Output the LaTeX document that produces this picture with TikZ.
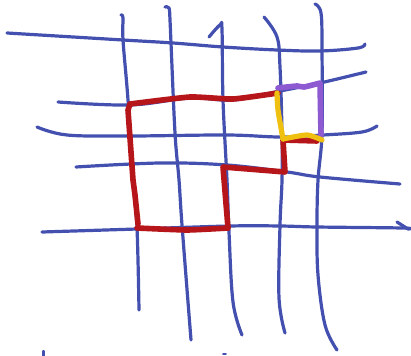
\documentclass[tikz,border=0pt]{standalone}
\definecolor{penblue}{RGB}{68,80,176}
\definecolor{penred}{RGB}{182,22,26}
\definecolor{penpurple}{RGB}{142,90,210}
\definecolor{penyellow}{RGB}{240,192,16}
\tikzset{
  gridline/.style={penblue, line width=3.2pt, line cap=round, line join=round},
  redpath/.style={penred, line width=5.6pt, line cap=round, line join=round},
  purplepath/.style={penpurple, line width=5.6pt, line cap=round, line join=round},
  yellowpath/.style={penyellow, line width=5.2pt, line cap=round, line join=round},
}
\begin{document}
\begin{tikzpicture}[x=1pt,y=-1pt]
\useasboundingbox (0,0) rectangle (411,355);
\fill[white] (0,0) rectangle (411,355);
% horizontal lines
\draw[gridline] plot[smooth, tension=0.6] coordinates {(7,33) (123,40) (173,43) (223,47) (277,50) (320,51) (358,48) (365,44)};
\draw[gridline] plot[smooth, tension=0.6] coordinates {(58,102) (130,105) (190,98) (233,100) (280,91) (320,83) (366,72)};
\draw[gridline] plot[smooth, tension=0.6] coordinates {(37,127) (67,135) (130,136) (227,135) (280,137) (323,135) (362,132) (377,126)};
\draw[gridline] plot[smooth, tension=0.6] coordinates {(76,167) (160,163) (227,165) (287,172) (320,177) (400,184)};
\draw[gridline] plot[smooth, tension=0.6] coordinates {(42,232) (137,229) (230,226) (280,226) (317,227) (402,228) (408,229)};
\draw[gridline] (397,222) -- (408,229);
% vertical lines
\draw[gridline] plot[smooth, tension=0.6] coordinates {(121,15) (123,18) (123,40) (128,100) (133,180) (137,228) (139,310)};
\draw[gridline] plot[smooth, tension=0.6] coordinates {(165,7) (169,8) (170,20) (171,43) (175,133) (179,180) (182,225) (191,340)};
\draw[gridline] plot[smooth, tension=0.6] coordinates {(209,37) (220,25) (222,30) (223,100) (227,180) (229,232) (233,302) (242,335)};
\draw[gridline] plot[smooth, tension=0.6] coordinates {(264,17) (277,37) (280,67) (282,133) (282,180) (280,225) (279,298) (285,333)};
\draw[gridline] plot[smooth, tension=0.6] coordinates {(315,4) (321,13) (322,50) (322,133) (318,180) (317,225) (318,275) (325,325) (337,350)};
% tiny marks at the bottom edge
\draw[gridline, line width=2.4pt] (43.5,351) -- (43.5,356);
\draw[gridline, line width=1.8pt] (223,354) -- (226,354);
% red path
\draw[redpath] plot[smooth, tension=0.3] coordinates {(278,93) (233,99) (190,97) (130,104)};
\draw[redpath] (130,104) -- (128,110) -- (133,180) -- (135,195) -- (138,224);
\draw[redpath] plot[smooth, tension=0.3] coordinates {(137,228) (187,230) (228,228)};
\draw[redpath] (228,228) -- (223,167) -- (285,172) -- (283,140) -- (317,141);
% purple path
\draw[purplepath] plot[smooth, tension=0.4] coordinates {(278,88) (297,86) (304,87) (320,83)} -- (321,135);
% yellow path
\draw[yellowpath] plot[smooth, tension=0.4] coordinates {(277,93) (278,110) (283,139)};
\draw[yellowpath] plot[smooth, tension=0.4] coordinates {(283,139) (307,135) (322,140)};
\end{tikzpicture}
\end{document}
